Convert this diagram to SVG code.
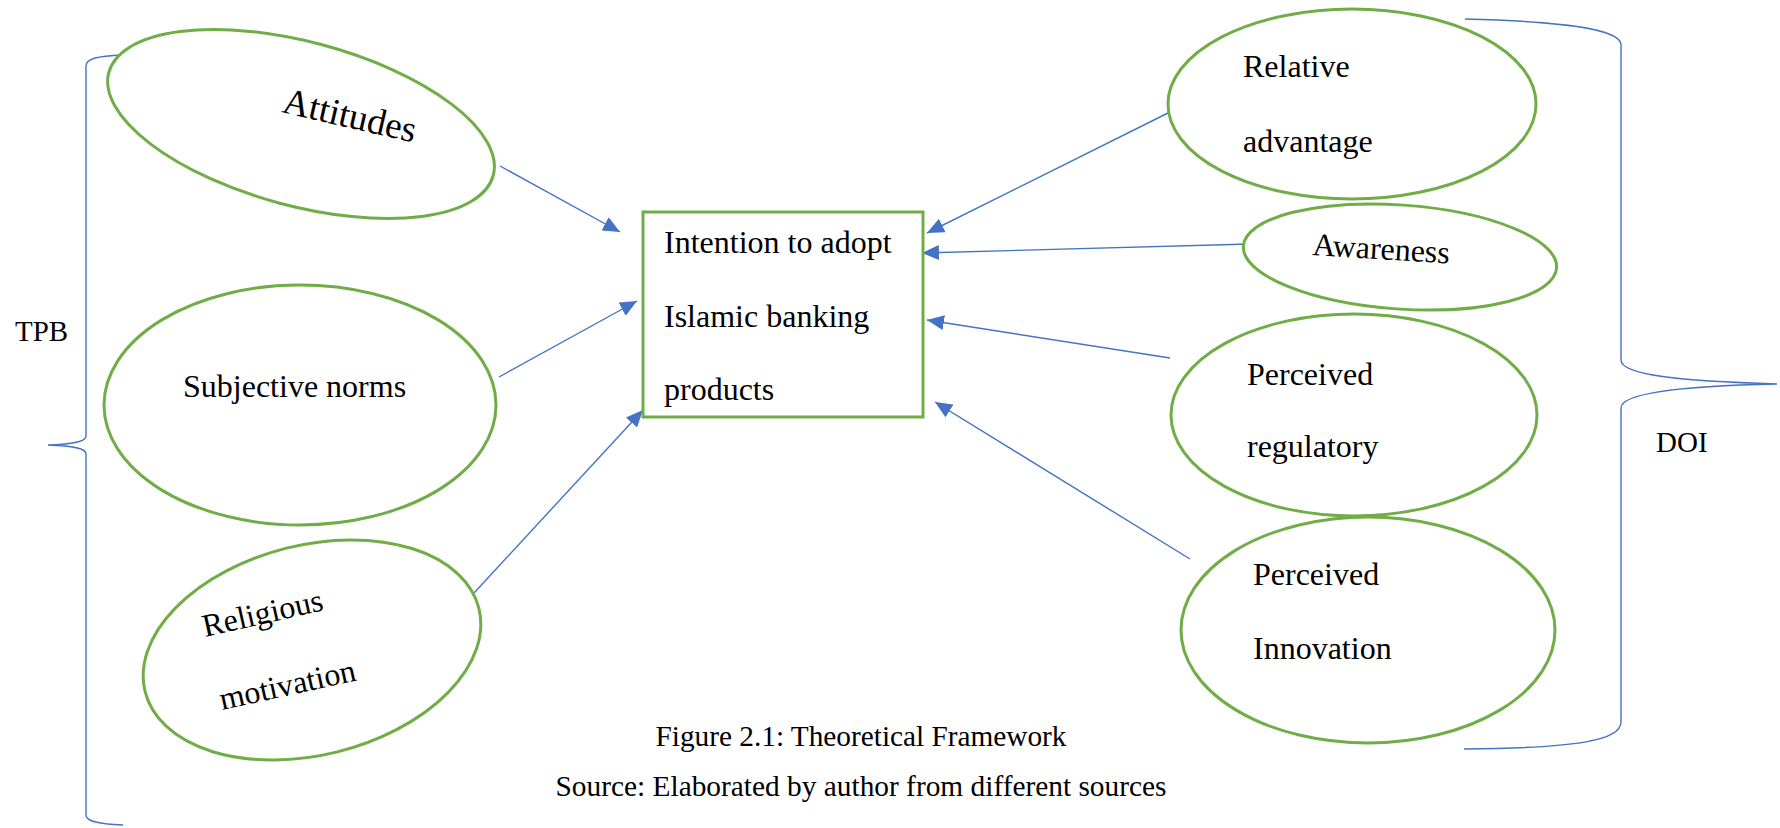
<svg xmlns="http://www.w3.org/2000/svg" width="1780" height="828" viewBox="0 0 1780 828">
  <style>
    .node { fill: #ffffff; stroke: #70AD47; stroke-width: 3; }
    .lbl { font-family: "Liberation Serif", "Times New Roman", serif; font-size: 32px; fill: #000000; }
    .big { font-size: 37px; }
    .side { font-family: "Liberation Serif", "Times New Roman", serif; font-size: 29px; fill: #000000; }
    .cap { font-family: "Liberation Serif", "Times New Roman", serif; font-size: 30px; fill: #000000; text-anchor: middle; }
    .brace { fill: none; stroke: #4472C4; stroke-width: 1.4; }
    .link { fill: none; stroke: #4472C4; stroke-width: 1.4; marker-end: url(#arrow); }
  </style>
  <defs>
    <marker id="arrow" viewBox="0 0 17 15" refX="17" refY="7.5" markerWidth="17" markerHeight="15" markerUnits="userSpaceOnUse" orient="auto">
      <path d="M0,0 L17,7.5 L0,15 z" fill="#4472C4"/>
    </marker>
  </defs>

  <rect width="1780" height="828" fill="#ffffff"/>

  <!-- grouping braces -->
  <g id="braces">
    <path class="brace" d="M123,55 C96,56 86,59 86,66 L86,436 C86,441 76,444 48,445 C76,446 86,449 86,454 L86,815 C86,821 96,824 123,825"/>
    <path class="brace" d="M1465,19 C1585,22 1621,32 1621,45 L1621,360 C1621,375 1680,381 1777,384 C1680,386 1621,393 1621,408 L1621,722 C1621,740 1580,748 1464,749"/>
    <text class="side" x="15" y="341">TPB</text>
    <text class="side" x="1656" y="452">DOI</text>
  </g>

  <!-- connectors -->
  <g id="connectors">
    <line class="link" x1="500" y1="166" x2="620" y2="232"/>
    <line class="link" x1="499" y1="377" x2="637" y2="301"/>
    <line class="link" x1="474" y1="593" x2="643" y2="410"/>
    <line class="link" x1="1168" y1="113" x2="927" y2="233"/>
    <line class="link" x1="1250" y1="244" x2="922" y2="253"/>
    <line class="link" x1="1170" y1="358" x2="927" y2="320"/>
    <line class="link" x1="1190" y1="559" x2="935" y2="402"/>
  </g>

  <!-- TPB constructs -->
  <g id="attitudes">
    <ellipse class="node" cx="301" cy="124" rx="199" ry="82" transform="rotate(15 301 124)"/>
    <text class="lbl big" x="281" y="112" transform="rotate(13 281 112)">Attitudes</text>
  </g>
  <g id="subjective-norms">
    <ellipse class="node" cx="300" cy="405" rx="196" ry="120"/>
    <text class="lbl" x="183" y="397">Subjective norms</text>
  </g>
  <g id="religious-motivation">
    <ellipse class="node" cx="312" cy="650" rx="172" ry="105" transform="rotate(-14 312 650)"/>
    <text class="lbl" x="205" y="637" transform="rotate(-12.7 205 637)">Religious</text>
    <text class="lbl" x="222" y="710" transform="rotate(-12.4 222 710)">motivation</text>
  </g>

  <!-- outcome -->
  <g id="intention">
    <rect class="node" x="643" y="212" width="280" height="205"/>
    <text class="lbl" x="664" y="253">Intention to adopt</text>
    <text class="lbl" x="664" y="327">Islamic banking</text>
    <text class="lbl" x="664" y="400">products</text>
  </g>

  <!-- DOI constructs -->
  <g id="relative-advantage">
    <ellipse class="node" cx="1352" cy="104" rx="184" ry="95"/>
    <text class="lbl" x="1243" y="77">Relative</text>
    <text class="lbl" x="1243" y="152">advantage</text>
  </g>
  <g id="awareness">
    <ellipse class="node" cx="1400" cy="257" rx="157" ry="52" transform="rotate(4 1400 257)"/>
    <text class="lbl" x="1312" y="255" transform="rotate(3.5 1312 255)">Awareness</text>
  </g>
  <g id="perceived-regulatory">
    <ellipse class="node" cx="1354" cy="415" rx="183" ry="101"/>
    <text class="lbl" x="1247" y="385">Perceived</text>
    <text class="lbl" x="1247" y="457">regulatory</text>
  </g>
  <g id="perceived-innovation">
    <ellipse class="node" cx="1368" cy="630" rx="187" ry="113"/>
    <text class="lbl" x="1253" y="585">Perceived</text>
    <text class="lbl" x="1253" y="659">Innovation</text>
  </g>

  <!-- caption -->
  <g id="caption">
    <text class="cap" x="861" y="746" textLength="411" lengthAdjust="spacingAndGlyphs">Figure 2.1: Theoretical Framework</text>
    <text class="cap" x="861" y="796" textLength="611" lengthAdjust="spacingAndGlyphs">Source: Elaborated by author from different sources</text>
  </g>
</svg>
